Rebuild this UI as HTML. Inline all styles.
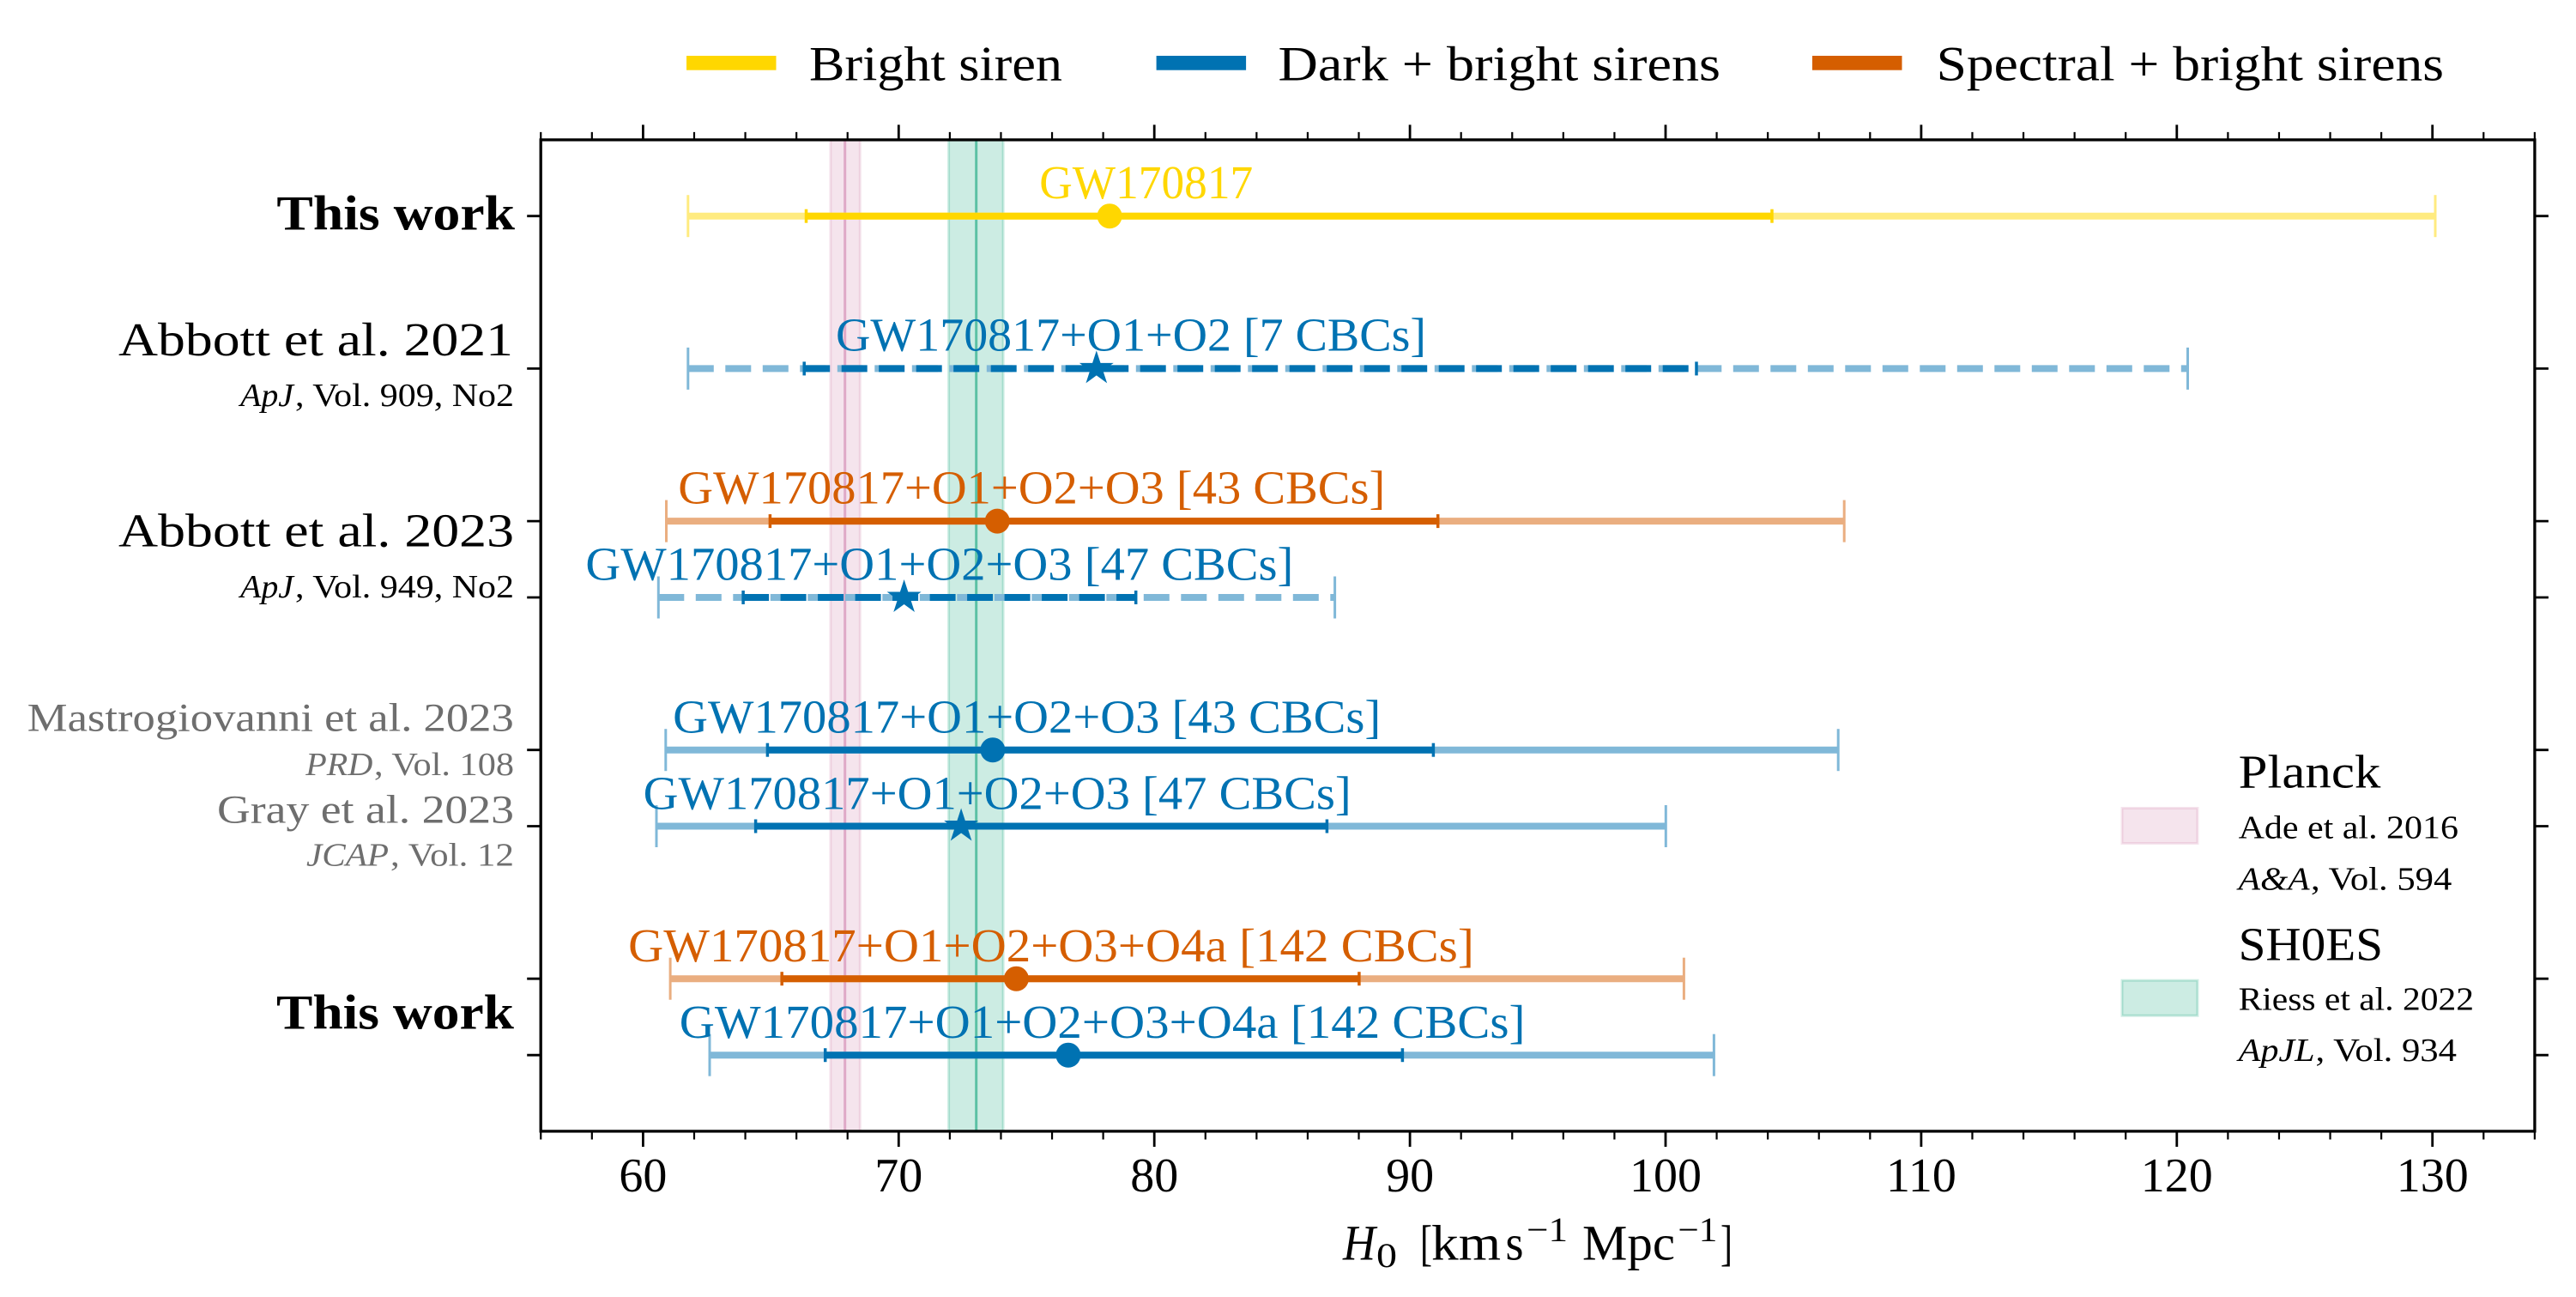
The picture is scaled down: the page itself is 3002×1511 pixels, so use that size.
<!DOCTYPE html>
<html><head><meta charset="utf-8"><style>
html,body{margin:0;padding:0;background:#fff;}
svg{display:block;}
text{font-family:"Liberation Serif",serif;}
</style></head><body>
<svg width="3002" height="1511" viewBox="0 0 3002 1511" xmlns="http://www.w3.org/2000/svg">
<defs>
<path id="star" d="M0,-21 L4.71,-6.49 L19.97,-6.49 L7.63,2.48 L12.34,16.99 L0,8.02 L-12.34,16.99 L-7.63,2.48 L-19.97,-6.49 L-4.71,-6.49 Z"/>
</defs>
<rect width="3002" height="1511" fill="#fff"/>

<!-- Bands -->
<rect x="967.9" y="162.9" width="34.4" height="1155" fill="#CC79A7" fill-opacity="0.2" stroke="#CC79A7" stroke-opacity="0.2" stroke-width="3"/>
<line x1="984.7" y1="162.9" x2="984.7" y2="1317.9" stroke="#CC79A7" stroke-opacity="0.55" stroke-width="3"/>
<rect x="1105.6" y="162.9" width="63.5" height="1155" fill="#009E73" fill-opacity="0.2" stroke="#009E73" stroke-opacity="0.2" stroke-width="3"/>
<line x1="1137.7" y1="162.9" x2="1137.7" y2="1317.9" stroke="#009E73" stroke-opacity="0.55" stroke-width="3"/>

<!-- Row 0 yellow -->
<g>
<line x1="801.8" y1="251.7" x2="2838" y2="251.7" stroke="#FFEB80" stroke-width="8"/>
<line x1="801.8" y1="227.2" x2="801.8" y2="276.2" stroke="#FFEB80" stroke-width="3"/>
<line x1="2838" y1="227.2" x2="2838" y2="276.2" stroke="#FFEB80" stroke-width="3"/>
<line x1="939.5" y1="251.7" x2="2065" y2="251.7" stroke="#FFD700" stroke-width="8"/>
<line x1="939.5" y1="243.7" x2="939.5" y2="259.7" stroke="#FFD700" stroke-width="3.5"/>
<line x1="2065" y1="243.7" x2="2065" y2="259.7" stroke="#FFD700" stroke-width="3.5"/>
<circle cx="1293.1" cy="251.7" r="14.5" fill="#FFD700"/>
</g>

<!-- Row 1 blue dashed star -->
<g>
<line x1="801.8" y1="429.4" x2="2549.5" y2="429.4" stroke="#80B8D8" stroke-width="8" stroke-dasharray="30 13.5"/>
<line x1="801.8" y1="404.9" x2="801.8" y2="453.9" stroke="#80B8D8" stroke-width="3"/>
<line x1="2549.5" y1="404.9" x2="2549.5" y2="453.9" stroke="#80B8D8" stroke-width="3"/>
<line x1="937.2" y1="429.4" x2="1977" y2="429.4" stroke="#0072B2" stroke-width="8" stroke-dasharray="30 13.5"/>
<line x1="937.2" y1="421.4" x2="937.2" y2="437.4" stroke="#0072B2" stroke-width="3.5"/>
<line x1="1977" y1="421.4" x2="1977" y2="437.4" stroke="#0072B2" stroke-width="3.5"/>
<use href="#star" x="1277.8" y="429.4" fill="#0072B2"/>
</g>

<!-- Row 2 orange -->
<g>
<line x1="776.5" y1="607.1" x2="2149.2" y2="607.1" stroke="#EAAE80" stroke-width="8"/>
<line x1="776.5" y1="582.6" x2="776.5" y2="631.6" stroke="#EAAE80" stroke-width="3"/>
<line x1="2149.2" y1="582.6" x2="2149.2" y2="631.6" stroke="#EAAE80" stroke-width="3"/>
<line x1="897.4" y1="607.1" x2="1675.7" y2="607.1" stroke="#D55E00" stroke-width="8"/>
<line x1="897.4" y1="599.1" x2="897.4" y2="615.1" stroke="#D55E00" stroke-width="3.5"/>
<line x1="1675.7" y1="599.1" x2="1675.7" y2="615.1" stroke="#D55E00" stroke-width="3.5"/>
<circle cx="1162.2" cy="607.1" r="14.5" fill="#D55E00"/>
</g>

<!-- Row 3 blue dashed star -->
<g>
<line x1="767.3" y1="696" x2="1555.6" y2="696" stroke="#80B8D8" stroke-width="8" stroke-dasharray="30 13.5"/>
<line x1="767.3" y1="671.5" x2="767.3" y2="720.5" stroke="#80B8D8" stroke-width="3"/>
<line x1="1555.6" y1="671.5" x2="1555.6" y2="720.5" stroke="#80B8D8" stroke-width="3"/>
<line x1="866.1" y1="696" x2="1323.7" y2="696" stroke="#0072B2" stroke-width="8" stroke-dasharray="30 13.5"/>
<line x1="866.1" y1="688" x2="866.1" y2="704" stroke="#0072B2" stroke-width="3.5"/>
<line x1="1323.7" y1="688" x2="1323.7" y2="704" stroke="#0072B2" stroke-width="3.5"/>
<use href="#star" x="1053.6" y="696" fill="#0072B2"/>
</g>

<!-- Row 4 blue circle -->
<g>
<line x1="775.8" y1="873.7" x2="2142.2" y2="873.7" stroke="#80B8D8" stroke-width="8"/>
<line x1="775.8" y1="849.2" x2="775.8" y2="898.2" stroke="#80B8D8" stroke-width="3"/>
<line x1="2142.2" y1="849.2" x2="2142.2" y2="898.2" stroke="#80B8D8" stroke-width="3"/>
<line x1="894.4" y1="873.7" x2="1670.4" y2="873.7" stroke="#0072B2" stroke-width="8"/>
<line x1="894.4" y1="865.7" x2="894.4" y2="881.7" stroke="#0072B2" stroke-width="3.5"/>
<line x1="1670.4" y1="865.7" x2="1670.4" y2="881.7" stroke="#0072B2" stroke-width="3.5"/>
<circle cx="1156.9" cy="873.7" r="14.5" fill="#0072B2"/>
</g>

<!-- Row 5 blue star solid -->
<g>
<line x1="765" y1="962.5" x2="1941.3" y2="962.5" stroke="#80B8D8" stroke-width="8"/>
<line x1="765" y1="938" x2="765" y2="987" stroke="#80B8D8" stroke-width="3"/>
<line x1="1941.3" y1="938" x2="1941.3" y2="987" stroke="#80B8D8" stroke-width="3"/>
<line x1="880.6" y1="962.5" x2="1546.4" y2="962.5" stroke="#0072B2" stroke-width="8"/>
<line x1="880.6" y1="954.5" x2="880.6" y2="970.5" stroke="#0072B2" stroke-width="3.5"/>
<line x1="1546.4" y1="954.5" x2="1546.4" y2="970.5" stroke="#0072B2" stroke-width="3.5"/>
<use href="#star" x="1120.1" y="962.5" fill="#0072B2"/>
</g>

<!-- Row 6 orange -->
<g>
<line x1="781.1" y1="1140.2" x2="1962.4" y2="1140.2" stroke="#EAAE80" stroke-width="8"/>
<line x1="781.1" y1="1115.7" x2="781.1" y2="1164.7" stroke="#EAAE80" stroke-width="3"/>
<line x1="1962.4" y1="1115.7" x2="1962.4" y2="1164.7" stroke="#EAAE80" stroke-width="3"/>
<line x1="911.2" y1="1140.2" x2="1583.9" y2="1140.2" stroke="#D55E00" stroke-width="8"/>
<line x1="911.2" y1="1132.2" x2="911.2" y2="1148.2" stroke="#D55E00" stroke-width="3.5"/>
<line x1="1583.9" y1="1132.2" x2="1583.9" y2="1148.2" stroke="#D55E00" stroke-width="3.5"/>
<circle cx="1184.4" cy="1140.2" r="14.5" fill="#D55E00"/>
</g>

<!-- Row 7 blue circle -->
<g>
<line x1="827" y1="1229.2" x2="1997.4" y2="1229.2" stroke="#80B8D8" stroke-width="8"/>
<line x1="827" y1="1204.7" x2="827" y2="1253.7" stroke="#80B8D8" stroke-width="3"/>
<line x1="1997.4" y1="1204.7" x2="1997.4" y2="1253.7" stroke="#80B8D8" stroke-width="3"/>
<line x1="961.7" y1="1229.2" x2="1634.4" y2="1229.2" stroke="#0072B2" stroke-width="8"/>
<line x1="961.7" y1="1221.2" x2="961.7" y2="1237.2" stroke="#0072B2" stroke-width="3.5"/>
<line x1="1634.4" y1="1221.2" x2="1634.4" y2="1237.2" stroke="#0072B2" stroke-width="3.5"/>
<circle cx="1244.9" cy="1229.2" r="14.5" fill="#0072B2"/>
</g>

<!-- Data labels -->
<g font-size="55" lengthAdjust="spacingAndGlyphs">
<text x="1211.2" y="231" fill="#FFD700" textLength="249" lengthAdjust="spacingAndGlyphs">GW170817</text>
<text x="974" y="408.6" fill="#0072B2" textLength="688" lengthAdjust="spacingAndGlyphs">GW170817+O1+O2 [7 CBCs]</text>
<text x="790.3" y="586.4" fill="#D55E00" textLength="824" lengthAdjust="spacingAndGlyphs">GW170817+O1+O2+O3 [43 CBCs]</text>
<text x="682.4" y="675.7" fill="#0072B2" textLength="825" lengthAdjust="spacingAndGlyphs">GW170817+O1+O2+O3 [47 CBCs]</text>
<text x="784.2" y="853.3" fill="#0072B2" textLength="825" lengthAdjust="spacingAndGlyphs">GW170817+O1+O2+O3 [43 CBCs]</text>
<text x="749.7" y="942.7" fill="#0072B2" textLength="825" lengthAdjust="spacingAndGlyphs">GW170817+O1+O2+O3 [47 CBCs]</text>
<text x="732.1" y="1120" fill="#D55E00" textLength="985.7" lengthAdjust="spacingAndGlyphs">GW170817+O1+O2+O3+O4a [142 CBCs]</text>
<text x="791.8" y="1209" fill="#0072B2" textLength="985.7" lengthAdjust="spacingAndGlyphs">GW170817+O1+O2+O3+O4a [142 CBCs]</text>
</g>

<!-- Axes spines -->
<rect x="630.2" y="162.9" width="2323.7" height="1155" fill="none" stroke="#000" stroke-width="3.3"/>

<!-- Major x ticks -->
<path stroke="#000" stroke-width="2.8" fill="none" d="M749.4 1318v18M1047.3 1318v18M1345.2 1318v18M1643.1 1318v18M1941 1318v18M2238.9 1318v18M2536.8 1318v18M2834.7 1318v18
M749.4 162.9v-17.5M1047.3 162.9v-17.5M1345.2 162.9v-17.5M1643.1 162.9v-17.5M1941 162.9v-17.5M2238.9 162.9v-17.5M2536.8 162.9v-17.5M2834.7 162.9v-17.5"/>
<!-- Minor x ticks -->
<path stroke="#000" stroke-width="2.2" fill="none" d="M630.24 1318v9.5M689.82 1318v9.5M808.98 1318v9.5M868.56 1318v9.5M928.14 1318v9.5M987.72 1318v9.5M1106.88 1318v9.5M1166.46 1318v9.5M1226.04 1318v9.5M1285.62 1318v9.5M1404.78 1318v9.5M1464.36 1318v9.5M1523.94 1318v9.5M1583.52 1318v9.5M1702.68 1318v9.5M1762.26 1318v9.5M1821.84 1318v9.5M1881.42 1318v9.5M2000.58 1318v9.5M2060.16 1318v9.5M2119.74 1318v9.5M2179.32 1318v9.5M2298.48 1318v9.5M2358.06 1318v9.5M2417.64 1318v9.5M2477.22 1318v9.5M2596.38 1318v9.5M2655.96 1318v9.5M2715.54 1318v9.5M2775.12 1318v9.5M2894.28 1318v9.5M2953.86 1318v9.5
M630.24 162.9v-9M689.82 162.9v-9M808.98 162.9v-9M868.56 162.9v-9M928.14 162.9v-9M987.72 162.9v-9M1106.88 162.9v-9M1166.46 162.9v-9M1226.04 162.9v-9M1285.62 162.9v-9M1404.78 162.9v-9M1464.36 162.9v-9M1523.94 162.9v-9M1583.52 162.9v-9M1702.68 162.9v-9M1762.26 162.9v-9M1821.84 162.9v-9M1881.42 162.9v-9M2000.58 162.9v-9M2060.16 162.9v-9M2119.74 162.9v-9M2179.32 162.9v-9M2298.48 162.9v-9M2358.06 162.9v-9M2417.64 162.9v-9M2477.22 162.9v-9M2596.38 162.9v-9M2655.96 162.9v-9M2715.54 162.9v-9M2775.12 162.9v-9M2894.28 162.9v-9M2953.86 162.9v-9"/>
<!-- Y ticks -->
<path stroke="#000" stroke-width="2.8" fill="none" d="M630.2 251.7h-16M630.2 429.4h-16M630.2 607.1h-16M630.2 696h-16M630.2 873.7h-16M630.2 962.5h-16M630.2 1140.2h-16M630.2 1229.2h-16
M2953.9 251.7h16M2953.9 429.4h16M2953.9 607.1h16M2953.9 696h16M2953.9 873.7h16M2953.9 962.5h16M2953.9 1140.2h16M2953.9 1229.2h16"/>

<!-- X tick labels -->
<g font-size="56" text-anchor="middle" fill="#000">
<text x="749.4" y="1388">60</text>
<text x="1047.3" y="1388">70</text>
<text x="1345.2" y="1388">80</text>
<text x="1643.1" y="1388">90</text>
<text x="1941" y="1388">100</text>
<text x="2238.9" y="1388">110</text>
<text x="2536.8" y="1388">120</text>
<text x="2834.7" y="1388">130</text>
</g>

<!-- X axis label -->
<g fill="#000">
<text x="1565" y="1467.7" font-size="58" font-style="italic" textLength="38" lengthAdjust="spacingAndGlyphs">H</text>
<text x="1604" y="1476" font-size="40" textLength="24" lengthAdjust="spacingAndGlyphs">0</text>
<text x="1655" y="1467.7" font-size="58" textLength="14" lengthAdjust="spacingAndGlyphs">[</text>
<text x="1668" y="1467.7" font-size="58" textLength="81" lengthAdjust="spacingAndGlyphs">km</text>
<text x="1754.5" y="1467.7" font-size="58" textLength="21" lengthAdjust="spacingAndGlyphs">s</text>
<text x="1779" y="1446" font-size="40" textLength="48" lengthAdjust="spacingAndGlyphs">−1</text>
<text x="1844" y="1467.7" font-size="58" textLength="108" lengthAdjust="spacingAndGlyphs">Mpc</text>
<text x="1955.4" y="1446" font-size="40" textLength="46" lengthAdjust="spacingAndGlyphs">−1</text>
<text x="2005" y="1467.7" font-size="58" textLength="14" lengthAdjust="spacingAndGlyphs">]</text>
</g>

<!-- Y labels -->
<g fill="#000">
<text x="322.4" y="267.5" font-size="57" font-weight="bold" textLength="277.6" lengthAdjust="spacingAndGlyphs">This work</text>
<text x="138" y="414" font-size="55" textLength="460" lengthAdjust="spacingAndGlyphs">Abbott et al. 2021</text>
<text x="280" y="473" font-size="38" font-style="italic" textLength="62" lengthAdjust="spacingAndGlyphs">ApJ</text>
<text x="344" y="473" font-size="38" textLength="255" lengthAdjust="spacingAndGlyphs">, Vol. 909, No2</text>
<text x="138" y="636.4" font-size="55" textLength="461" lengthAdjust="spacingAndGlyphs">Abbott et al. 2023</text>
<text x="280" y="696" font-size="38" font-style="italic" textLength="62" lengthAdjust="spacingAndGlyphs">ApJ</text>
<text x="344" y="696" font-size="38" textLength="255" lengthAdjust="spacingAndGlyphs">, Vol. 949, No2</text>
<text x="322" y="1198.3" font-size="57" font-weight="bold" textLength="277" lengthAdjust="spacingAndGlyphs">This work</text>
</g>
<g fill="#6e6e6e">
<text x="31.8" y="851.7" font-size="47" textLength="567" lengthAdjust="spacingAndGlyphs">Mastrogiovanni et al. 2023</text>
<text x="356.3" y="903" font-size="38" font-style="italic" textLength="78" lengthAdjust="spacingAndGlyphs">PRD</text>
<text x="436" y="903" font-size="38" textLength="163" lengthAdjust="spacingAndGlyphs">, Vol. 108</text>
<text x="253" y="958.3" font-size="47" textLength="346" lengthAdjust="spacingAndGlyphs">Gray et al. 2023</text>
<text x="357" y="1008.3" font-size="38" font-style="italic" textLength="96" lengthAdjust="spacingAndGlyphs">JCAP</text>
<text x="455" y="1008.3" font-size="38" textLength="144" lengthAdjust="spacingAndGlyphs">, Vol. 12</text>
</g>

<!-- Top legend -->
<rect x="800" y="65" width="104.5" height="16.7" fill="#FFD700"/>
<text x="943" y="93.3" font-size="57" fill="#000" textLength="295" lengthAdjust="spacingAndGlyphs">Bright siren</text>
<rect x="1347.6" y="65" width="104.5" height="16.7" fill="#0072B2"/>
<text x="1489.5" y="93.3" font-size="57" fill="#000" textLength="515.5" lengthAdjust="spacingAndGlyphs">Dark + bright sirens</text>
<rect x="2112" y="65" width="104.5" height="16.7" fill="#D55E00"/>
<text x="2256.6" y="93.3" font-size="57" fill="#000" textLength="591.4" lengthAdjust="spacingAndGlyphs">Spectral + bright sirens</text>

<!-- Right legend -->
<rect x="2473" y="941.5" width="88" height="41" fill="#CC79A7" fill-opacity="0.2" stroke="#CC79A7" stroke-opacity="0.2" stroke-width="3"/>
<text x="2608.6" y="917.3" font-size="55" fill="#000" textLength="165.7" lengthAdjust="spacingAndGlyphs">Planck</text>
<text x="2608.6" y="976.7" font-size="38" fill="#000" textLength="256.4" lengthAdjust="spacingAndGlyphs">Ade et al. 2016</text>
<text x="2608.6" y="1036.7" font-size="38" font-style="italic" fill="#000" textLength="83" lengthAdjust="spacingAndGlyphs">A&amp;A</text>
<text x="2693" y="1036.7" font-size="38" fill="#000" textLength="164.3" lengthAdjust="spacingAndGlyphs">, Vol. 594</text>
<rect x="2473" y="1142.2" width="88" height="41" fill="#009E73" fill-opacity="0.2" stroke="#009E73" stroke-opacity="0.2" stroke-width="3"/>
<text x="2608.6" y="1118.3" font-size="55" fill="#000" textLength="168.4" lengthAdjust="spacingAndGlyphs">SH0ES</text>
<text x="2608.6" y="1176.7" font-size="38" fill="#000" textLength="274.4" lengthAdjust="spacingAndGlyphs">Riess et al. 2022</text>
<text x="2608.6" y="1236" font-size="38" font-style="italic" fill="#000" textLength="89" lengthAdjust="spacingAndGlyphs">ApJL</text>
<text x="2698.5" y="1236" font-size="38" fill="#000" textLength="164.5" lengthAdjust="spacingAndGlyphs">, Vol. 934</text>
</svg>
</body></html>
